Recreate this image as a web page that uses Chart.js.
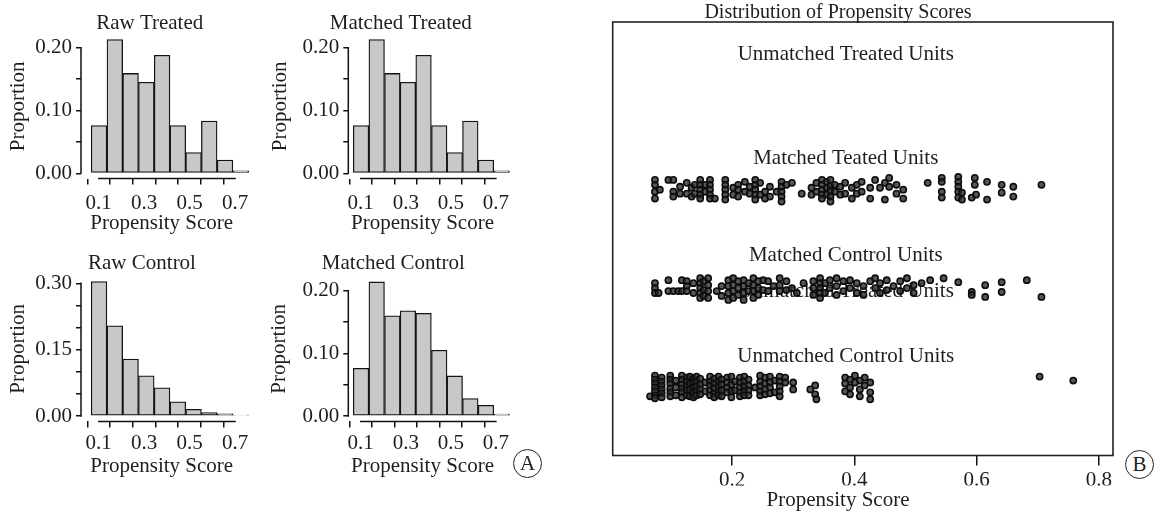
<!DOCTYPE html>
<html><head><meta charset="utf-8">
<script src="https://cdn.jsdelivr.net/npm/chart.js@4/dist/chart.umd.min.js"></script>
<style>
html,body{margin:0;padding:0;background:#fff;}
#wrap{position:relative;width:1160px;height:515px;overflow:hidden;background:#fff;}
#wrap canvas{position:absolute;}
.tag{position:absolute;width:27px;height:27px;border:1.5px solid #222;border-radius:50%;
 font:21px "Liberation Serif","Times New Roman",serif;color:#222;text-align:center;line-height:27px;}
</style></head>
<body><div id="wrap"></div>
<script>
// ================= DATA =================
// histogram bins (propensity score) and bar heights (proportion)
const binEdges       = [0.067, 0.136, 0.206, 0.275, 0.344, 0.414, 0.483, 0.552, 0.621, 0.691, 0.760];
const rawTreated     = [0.076, 0.213, 0.159, 0.145, 0.188, 0.076, 0.033, 0.083, 0.021, 0.004];
const matchedTreated = [0.076, 0.213, 0.159, 0.145, 0.188, 0.076, 0.033, 0.083, 0.021, 0.004];
const rawControl     = [0.304, 0.204, 0.129, 0.091, 0.064, 0.032, 0.015, 0.008, 0.005, 0.002];
const matchedControl = [0.076, 0.214, 0.160, 0.168, 0.164, 0.105, 0.064, 0.028, 0.017, 0.003];

const histXTicks  = [0.1, 0.2, 0.3, 0.4, 0.5, 0.6, 0.7];
const histXLabels = ['0.1', '', '0.3', '', '0.5', '', '0.7'];
const yTicks020   = [0, 0.05, 0.10, 0.15, 0.20];
const yLabels020  = ['0.00', '', '0.10', '', '0.20'];
const yTicks030   = [0, 0.05, 0.10, 0.15, 0.20, 0.25, 0.30];
const yLabels030  = ['0.00', '', '', '0.15', '', '', '0.30'];

const scatterXTicks  = [0.2, 0.4, 0.6, 0.8];
const scatterXLabels = ['0.2', '0.4', '0.6', '0.8'];
// group rows of the jitter plot (1 = unmatched control ... 4 = unmatched treated)
const groupLabels = ['Unmatched Treated Units', 'Matched Teated Units', 'Matched Control Units', 'Unmatched Control Units', 'Unmatched Treated Units'];
const groupLabelY = [4.37, 3.32, 2.33, 1.30, 1.97];
const groupLabelX = 0.386;

// jitter points: [propensity score, [vertical jitter of each point at that score]]
const matchedTreatedPts = [
 [0.074,[0.10,0.05,-0.02,-0.09]],[0.082,[0.00]],[0.096,[0.10]],[0.104,[0.10,-0.02,-0.07]],
 [0.115,[0.03,-0.04]],[0.126,[0.07,-0.04]],[0.134,[0.02,-0.07]],[0.139,[0.05,-0.04]],
 [0.148,[0.10,0.05,0.00,-0.05,-0.09]],[0.156,[0.05,-0.02]],[0.164,[0.10,0.05,0.00,-0.05,-0.09]],
 [0.172,[-0.09]],[0.189,[0.10,0.05,0.00,-0.05,-0.10]],[0.202,[0.02,-0.05]],[0.210,[0.05,0.00,-0.07]],
 [0.221,[0.08,-0.02]],[0.229,[0.03,-0.04]],[0.238,[0.10,0.05,0.00,-0.05,-0.10]],[0.246,[0.07,-0.05]],
 [0.254,[-0.02,-0.09]],[0.262,[0.03,-0.07]],[0.273,[-0.02]],[0.281,[0.08,0.03,-0.02,-0.07,-0.12]],
 [0.289,[0.05]],[0.298,[0.07]],[0.314,[-0.04]],[0.330,[0.02,-0.05]],[0.338,[0.07,-0.02]],
 [0.347,[0.10,0.05,0.00,-0.05,-0.09]],[0.355,[0.08,0.02,-0.05]],[0.361,[0.10,0.04,-0.01,-0.07,-0.12]],
 [0.368,[0.05,-0.02]],[0.377,[0.03,-0.05]],[0.385,[0.07,-0.04]],[0.396,[0.02,-0.09]],[0.404,[0.05,-0.04]],
 [0.412,[0.08,-0.02]],[0.426,[0.02,-0.09]],[0.434,[0.10]],[0.442,[0.02]],[0.450,[0.07,-0.10]],
 [0.457,[0.12,0.03]],[0.469,[0.05,-0.04]],[0.480,[0.00,-0.09]],[0.520,[0.07]],
 [0.543,[0.12,0.08,-0.02,-0.08]],[0.570,[0.13,0.08,0.03,-0.02,-0.08]],[0.576,[-0.03,-0.10]],
 [0.592,[-0.08]],[0.597,[0.12,0.05]],[0.599,[-0.05]],[0.617,[0.08,-0.10]],[0.641,[0.05,-0.03]],
 [0.660,[0.03,-0.07]],[0.706,[0.05]]
];
const matchedControlPts = [
 [0.074,[0.05,0.00,-0.05]],[0.080,[-0.05]],[0.096,[0.08,-0.03]],[0.104,[-0.03]],[0.112,[-0.03]],
 [0.118,[0.08,-0.03]],[0.126,[0.07,0.02,-0.03]],[0.137,[0.05,-0.05]],[0.148,[0.10,0.05,0.00,-0.05,-0.10]],
 [0.154,[0.07,-0.02,-0.08]],[0.161,[0.10,0.03,-0.03,-0.10]],[0.175,[-0.03]],[0.183,[0.02,-0.08]],
 [0.194,[0.08,0.02,-0.05,-0.12]],[0.202,[0.10,0.03,-0.03,-0.10]],[0.210,[0.07,0.00,-0.07]],
 [0.219,[0.08,0.02,-0.05,-0.12]],[0.227,[0.05,-0.03]],[0.235,[0.10,0.03,-0.03,-0.10]],
 [0.243,[0.07,0.00,-0.07]],[0.251,[0.08,-0.02]],[0.259,[0.07,-0.03]],[0.268,[0.02]],
 [0.278,[0.10,0.03,-0.03]],[0.289,[0.07,-0.02]],[0.298,[0.00]],[0.306,[-0.05]],[0.317,[0.05]],
 [0.333,[0.07,0.00,-0.07]],[0.344,[0.10,0.05,0.00,-0.05,-0.10]],[0.352,[0.05,-0.05]],[0.360,[0.08,0.00]],
 [0.371,[0.10,0.02,-0.07]],[0.382,[0.07,-0.03]],[0.393,[0.08,0.00]],[0.404,[0.05,-0.05]],
 [0.415,[0.02,-0.07]],[0.426,[0.07]],[0.434,[0.10,0.00]],[0.442,[0.05,-0.05]],[0.453,[0.08,-0.02]],
 [0.464,[0.02]],[0.475,[0.07,-0.03]],[0.486,[0.10,0.00]],[0.497,[0.03,-0.05]],[0.510,[0.05]],
 [0.524,[0.08]],[0.546,[0.10]],[0.570,[0.06]],[0.592,[-0.04,-0.07]],[0.614,[0.03,-0.09]],
 [0.641,[0.06,-0.04]],[0.682,[0.08]],[0.706,[-0.09]]
];
const unmatchedControlPts = [
 [0.066,[-0.10]],[0.074,[0.11,0.07,0.03,-0.01,-0.05,-0.09,-0.12]],[0.085,[0.09,0.05,0.01,-0.03,-0.07,-0.11]],
 [0.099,[0.11,0.07,0.03,-0.02,-0.06,-0.10]],[0.108,[0.06,-0.01,-0.09]],[0.118,[0.11,0.07,0.02,-0.02,-0.06,-0.11]],
 [0.126,[0.09,0.05,0.00,-0.04,-0.09]],[0.131,[0.10,0.03,-0.03,-0.10]],[0.137,[0.08,0.04,-0.01,-0.06,-0.11]],
 [0.142,[0.10,0.05,0.00,-0.05,-0.09]],[0.148,[0.08,0.02,-0.03,-0.08]],[0.156,[0.04,-0.05]],
 [0.164,[0.10,0.05,0.01,-0.04,-0.09]],[0.171,[0.08,0.03,-0.02,-0.07,-0.11]],[0.178,[0.10,0.05,0.00,-0.05,-0.09]],
 [0.183,[0.07,0.02,-0.04,-0.10]],[0.192,[0.09,0.04,-0.01,-0.06]],[0.199,[0.10,0.02,-0.05,-0.11]],
 [0.205,[0.05,-0.04]],[0.213,[0.09,0.04,-0.01,-0.06,-0.10]],[0.220,[0.10,0.05,0.00,-0.05,-0.09]],
 [0.227,[0.07,0.01,-0.04,-0.09]],[0.238,[-0.01]],[0.246,[0.11,0.05,0.00,-0.05,-0.09]],
 [0.254,[0.09,0.03,-0.03,-0.08]],[0.262,[0.10,0.04,-0.01,-0.07]],[0.270,[0.06,-0.06]],
 [0.278,[0.10,0.05,0.00,-0.05,-0.10]],[0.287,[0.09,0.04]],[0.300,[0.04,-0.03]],[0.328,[-0.03]],
 [0.336,[0.01,-0.08]],[0.338,[-0.13]],[0.385,[0.09,0.03,-0.05]],[0.393,[0.07,-0.01,-0.08]],
 [0.401,[0.11,0.04]],[0.409,[0.06,-0.03,-0.10]],[0.417,[0.09,0.01]],[0.426,[0.04,-0.06,-0.13]],
 [0.703,[0.10]],[0.758,[0.06]]
];

// ================= DRAWING =================
const FONT = '"Liberation Serif", "Times New Roman", serif';
const TXT = '#1e1e1e';
Chart.defaults.font.family = FONT;
Chart.defaults.color = TXT;

const wrap = document.getElementById('wrap');
function addCanvas(left, top, w, h) {
  const c = document.createElement('canvas');
  c.width = w; c.height = h;
  c.style.left = left + 'px'; c.style.top = top + 'px';
  c.style.width = w + 'px'; c.style.height = h + 'px';
  wrap.appendChild(c);
  return c;
}

// R-style axis lines spanning first..last tick
const rAxes = {
  id: 'rAxes',
  afterDraw(chart, args, opts) {
    if (!opts || !opts.enabled) return;
    const {ctx, chartArea: a, scales: {x, y}} = chart;
    const xt = x.ticks, yt = y.ticks;
    ctx.save();
    ctx.strokeStyle = '#111'; ctx.lineWidth = 1.5;
    ctx.beginPath();
    ctx.moveTo(x.getPixelForValue(xt[0].value) - 0.75, a.bottom);
    ctx.lineTo(x.getPixelForValue(xt[xt.length - 1].value) + 0.75, a.bottom);
    ctx.moveTo(a.left, y.getPixelForValue(yt[0].value) + 0.75);
    ctx.lineTo(a.left, y.getPixelForValue(yt[yt.length - 1].value) - 0.75);
    ctx.stroke();
    ctx.restore();
  }
};
// frame + group labels for the jitter plot
const framePlot = {
  id: 'framePlot',
  beforeDatasetsDraw(chart, args, opts) {
    if (!opts || !opts.enabled) return;
    const {ctx, scales: {x, y}} = chart;
    ctx.save();
    ctx.font = '21px ' + FONT;
    ctx.fillStyle = TXT;
    ctx.textAlign = 'center'; ctx.textBaseline = 'middle';
    groupLabels.forEach((t, i) => ctx.fillText(t, x.getPixelForValue(groupLabelX), y.getPixelForValue(groupLabelY[i])));
    ctx.restore();
  },
  afterDraw(chart, args, opts) {
    if (!opts || !opts.enabled) return;
    const {ctx, chartArea: a} = chart;
    ctx.save();
    ctx.strokeStyle = '#222'; ctx.lineWidth = 1.6;
    ctx.strokeRect(a.left, a.top, a.right - a.left, a.bottom - a.top);
    ctx.restore();
  }
};
Chart.register(rAxes, framePlot);

const binCenters = binEdges.slice(0, -1).map((e, i) => (e + binEdges[i + 1]) / 2);

function histChart(p, values, yTicks, yLabels) {
  const BL = p.BL;                       // left edge of y-axis box (page px)
  const wr = 2 * p.xt - BL - p.R;        // spacer on the right so the title centres at xt
  const pR = 25;
  const W = Math.round(p.R + wr + pR - p.cL);
  const pL = BL - p.cL;
  const yw = p.L - BL;
  const pRr = p.cL + W - p.R - wr;
  const pT = p.yt - 10.5 - p.cT;
  const H = p.H;
  const xh = p.cT + H - p.B;
  const canvas = addCanvas(p.cL, p.cT, W, H);
  const tickGrid = (len) => ({display: true, drawOnChartArea: false, drawTicks: true, tickLength: len, color: '#111', lineWidth: 1.5});
  new Chart(canvas, {
    type: 'bar',
    data: {datasets: [{
      data: values.map((v, i) => ({x: binCenters[i], y: v})),
      backgroundColor: '#c8c8c8', borderColor: '#141414', borderWidth: 1.3, borderSkipped: false,
      barPercentage: 1, categoryPercentage: 1, clip: false
    }]},
    options: {
      responsive: false, animation: false, devicePixelRatio: 1, events: [],
      layout: {padding: {left: pL, right: pRr, top: pT, bottom: 0}},
      plugins: {
        legend: {display: false}, tooltip: {enabled: false},
        title: {display: true, text: p.title, color: TXT, font: {size: 21, lineHeight: 1, weight: 'normal'},
                padding: {top: 0, bottom: p.T - p.yt - 10.5}},
        rAxes: {enabled: true}
      },
      scales: {
        x: {
          type: 'linear', bounds: 'data', min: p.xmin, max: p.xmax, offset: false,
          afterBuildTicks: s => { s.ticks = histXTicks.map(v => ({value: v})); },
          afterFit: s => { s.height = xh; },
          grid: tickGrid(6), border: {display: false},
          ticks: {autoSkip: false, maxRotation: 0, minRotation: 0, padding: p.xtp, color: TXT,
                  font: {size: 21, lineHeight: 1}, callback: (v, i) => histXLabels[i]},
          title: {display: true, text: 'Propensity Score', color: TXT, font: {size: 21, lineHeight: 1},
                  padding: {top: 0, bottom: p.cT + H - p.yx - 10.5}}
        },
        y: {
          type: 'linear', bounds: 'data', min: p.ymin, max: p.ymax,
          afterBuildTicks: s => { s.ticks = yTicks.map(v => ({value: v})); },
          afterFit: s => { s.width = yw; },
          grid: tickGrid(5), border: {display: false},
          ticks: {autoSkip: false, padding: 4, color: TXT, font: {size: 21, lineHeight: 1},
                  callback: (v, i) => yLabels[i]},
          title: {display: true, text: 'Proportion', color: TXT, font: {size: 21, lineHeight: 1},
                  padding: {top: p.xy - BL - 10.5, bottom: 0}}
        },
        spacer: {
          type: 'linear', position: 'right', display: true,
          afterFit: s => { s.width = wr; },
          ticks: {display: false}, grid: {display: false}, border: {display: false}
        }
      }
    }
  });
}

// panel A layout (page pixels)
histChart({title: 'Raw Treated', cL: 0, cT: 0, H: 242, BL: 25, L: 81, R: 242.4, T: 34.0, B: 178.6,
  xmin: 0.0221, xmax: 0.7325, ymin: -0.0085, ymax: 0.2218,
  xt: 149.7, yt: 23.6, xy: 18.6, yx: 223, xtp: 8.0}, rawTreated, yTicks020, yLabels020);
histChart({title: 'Matched Treated', cL: 260, cT: 0, H: 242, BL: 290, L: 348.3, R: 496.7, T: 34.0, B: 178.6,
  xmin: 0.045, xmax: 0.7036, ymin: -0.0085, ymax: 0.2218,
  xt: 400.8, yt: 23.6, xy: 280, yx: 223, xtp: 8.0}, matchedTreated, yTicks020, yLabels020);
histChart({title: 'Raw Control', cL: 0, cT: 245, H: 245, BL: 25, L: 81, R: 242.4, T: 276.2, B: 421.4,
  xmin: 0.0221, xmax: 0.7325, ymin: -0.0122, ymax: 0.3162,
  xt: 142, yt: 263.6, xy: 18.6, yx: 466, xtp: 5.5}, rawControl, yTicks030, yLabels030);
histChart({title: 'Matched Control', cL: 260, cT: 245, H: 245, BL: 285, L: 348.3, R: 496.7, T: 276.3, B: 421.4,
  xmin: 0.045, xmax: 0.7036, ymin: -0.0086, ymax: 0.2230,
  xt: 393.3, yt: 263.6, xy: 279, yx: 466, xtp: 5.5}, matchedControl, yTicks020, yLabels020);

// panel B: jitter plot
function expand(cols, g) {
  const out = [];
  cols.forEach(([x, js]) => js.forEach(j => out.push({x: x, y: g + j})));
  return out;
}
(function () {
  const cL = 560, cT = 0, L = 612.7, R = 1113, T = 22, xt = 838;
  const boxLeft = 2 * xt - R;
  const W = Math.round(R + 5 - cL);
  const pR = cL + W - R;
  const H = 514;
  const canvas = addCanvas(cL, cT, W, H);
  const ptStyle = {pointRadius: 3.1, pointBorderWidth: 1.6, pointBorderColor: '#0d0d0d',
                   pointBackgroundColor: 'rgba(45,45,45,0.8)', pointHoverRadius: 3.1, clip: false};
  new Chart(canvas, {
    type: 'scatter',
    data: {datasets: [
      Object.assign({data: expand(matchedTreatedPts, 3)}, ptStyle),
      Object.assign({data: expand(matchedControlPts, 2)}, ptStyle),
      Object.assign({data: expand(unmatchedControlPts, 1)}, ptStyle)
    ]},
    options: {
      responsive: false, animation: false, devicePixelRatio: 1, events: [],
      layout: {padding: {left: boxLeft - cL, right: pR, top: 2.5, bottom: 3}},
      plugins: {
        legend: {display: false}, tooltip: {enabled: false},
        title: {display: true, text: 'Distribution of Propensity Scores', color: TXT,
                font: {size: 20, lineHeight: 1, weight: 'normal'}, padding: {top: 0, bottom: T - 2.5 - 20}},
        subtitle: {display: true, position: 'bottom', text: 'Propensity Score', color: TXT,
                   font: {size: 21, lineHeight: 1, weight: 'normal'}, padding: {top: 4.5, bottom: 0}},
        framePlot: {enabled: true}
      },
      scales: {
        x: {
          type: 'linear', bounds: 'data', min: 0.0049, max: 0.823,
          afterBuildTicks: s => { s.ticks = scatterXTicks.map(v => ({value: v})); },
          afterFit: s => { s.height = 30; },
          grid: {display: true, drawOnChartArea: false, drawTicks: true, tickLength: 10, color: '#111', lineWidth: 1.5},
          border: {display: false},
          ticks: {autoSkip: false, maxRotation: 0, minRotation: 0, padding: 4.5, color: TXT,
                  font: {size: 21, lineHeight: 1}, callback: (v, i) => scatterXLabels[i]}
        },
        y: {
          type: 'linear', bounds: 'data', min: 0.298, max: 4.705,
          afterFit: s => { s.width = L - boxLeft; },
          ticks: {display: false}, grid: {display: false}, border: {display: false}
        }
      }
    }
  });
})();

// panel tags
function tag(t, cx, cy) {
  const d = document.createElement('div');
  d.className = 'tag'; d.textContent = t;
  d.style.left = (cx - 15) + 'px'; d.style.top = (cy - 15) + 'px';
  wrap.appendChild(d);
}
tag('A', 528, 464);
tag('B', 1140, 465);
</script>
</body></html>
